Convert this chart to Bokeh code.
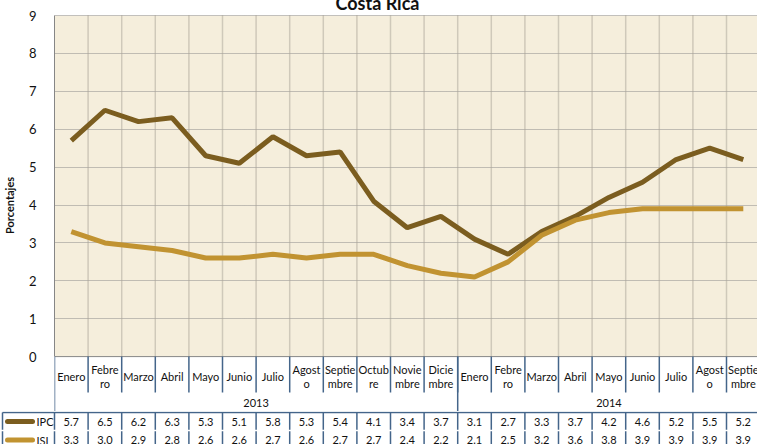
from bokeh.plotting import figure
from bokeh.models import Range1d, FixedTicker
from bokeh.layouts import column
from bokeh.core.properties import value
from bokeh.embed import file_html
from bokeh.resources import INLINE

# ---------------- data ----------------
month_labels = ["Enero", "Febre\nro", "Marzo", "Abril", "Mayo", "Junio", "Julio",
                "Agost\no", "Septie\nmbre", "Octub\nre", "Novie\nmbre", "Dicie\nmbre",
                "Enero", "Febre\nro", "Marzo", "Abril", "Mayo", "Junio", "Julio",
                "Agost\no", "Septie\nmbre"]
years = ["2013", "2014"]
year_counts = [12, 9]
ipc = [5.7, 6.5, 6.2, 6.3, 5.3, 5.1, 5.8, 5.3, 5.4, 4.1, 3.4, 3.7,
       3.1, 2.7, 3.3, 3.7, 4.2, 4.6, 5.2, 5.5, 5.2]
isl = [3.3, 3.0, 2.9, 2.8, 2.6, 2.6, 2.7, 2.6, 2.7, 2.7, 2.4, 2.2,
       2.1, 2.5, 3.2, 3.6, 3.8, 3.9, 3.9, 3.9, 3.9]
y_ticks = [0, 1, 2, 3, 4, 5, 6, 7, 8, 9]
series_names = ["IPC", "ISL"]

# ---------------- style ----------------
FONT = "Lato"
C_IPC = "#7B5D1F"
C_ISL = "#C19331"
BG = "#F5EEDC"
SEP = "#44658A"
GRID = "#8a8a8a"
TXT = "#111111"

W = 760
LEFT = 57                      # left edge of the plotting area (px)
CAT_PX = 33.6                  # px per category
Y_PX = 37.9                    # px per unit
H_A = 412
H_B = 33
TOP_PAD = 16                   # px above value 9

n = len(ipc)
xc = [i + 0.5 for i in range(n)]
x_end = (W - LEFT) / CAT_PX
ya1 = max(y_ticks) + TOP_PAD / Y_PX
ya0 = ya1 - H_A / Y_PX
yb1 = ya0
yb0 = yb1 - H_B / Y_PX

def py(pix):
    """page pixel row -> data y (shared scale)"""
    return ya1 - pix / Y_PX

# ---------------- figure A: chart + month/year header ----------------
pA = figure(width=W, height=H_A, x_range=Range1d(0, x_end), y_range=Range1d(ya0, ya1),
            output_backend="svg", toolbar_location=None, x_axis_location=None,
            min_border_left=LEFT, min_border_right=0, min_border_top=0, min_border_bottom=0)
pA.outline_line_color = None
pA.xgrid.visible = False
pA.frame_align = False

# plot-area background
pA.quad(left=[0], right=[n], bottom=[min(y_ticks)], top=[max(y_ticks)],
        fill_color=BG, line_color=None, level="image")

pA.ygrid.ticker = FixedTicker(ticks=y_ticks[1:])
pA.ygrid.grid_line_color = GRID
pA.ygrid.grid_line_dash = "1 1"
pA.ygrid.grid_line_width = 1

# vertical grid at category boundaries
bounds = list(range(1, n))
pA.segment(x0=bounds, y0=[0] * len(bounds), x1=bounds, y1=[max(y_ticks)] * len(bounds),
           line_color="#aaa397", line_width=1.5, line_dash="1 1")

# y axis
ya = pA.yaxis[0]
ya.ticker = FixedTicker(ticks=y_ticks)
ya.bounds = (0, 9)
ya.axis_line_color = "#868686"
ya.major_tick_line_color = None
ya.minor_tick_line_color = None
ya.major_label_standoff = 12
ya.major_label_text_font = FONT
ya.major_label_text_font_size = "13px"
ya.major_label_text_color = TXT
ya.axis_label = "Porcentajes"
ya.axis_label_text_font = FONT
ya.axis_label_text_font_style = "bold"
ya.axis_label_text_font_size = "11px"
ya.axis_label_text_color = TXT
ya.axis_label_standoff = 10

# x baseline
pA.segment(x0=[0], y0=[0], x1=[n], y1=[0], line_color="#868686", line_width=1)

# series lines
pA.line(xc, ipc, line_color=C_IPC, line_width=5)
pA.line(xc, isl, line_color=C_ISL, line_width=5)

# title (partly cut by the top edge, as in the original)
pA.text(x=[(W / 2 - LEFT) / CAT_PX], y=[py(3.5)], text=["Costa Rica"],
        text_font=value(FONT), text_font_style="bold", text_font_size="18px",
        text_align="center", text_baseline="alphabetic", text_color=TXT)

# month labels
pA.text(x=xc, y=[py(377)] * n, text=month_labels, text_font=value(FONT),
        text_font_size="11px", text_align="center", text_baseline="middle",
        text_color=TXT, text_line_height=1.15)

# month separators
m_bounds = list(range(1, n))
pA.segment(x0=m_bounds, y0=[0] * len(m_bounds), x1=m_bounds, y1=[py(393)] * len(m_bounds),
           line_color=SEP, line_width=1.5)

# year labels and group separators
starts = []
acc = 0
for c in year_counts:
    starts.append(acc)
    acc += c
ycent = [s + c / 2 for s, c in zip(starts, year_counts)]
pA.text(x=ycent, y=[py(403)] * len(years), text=years, text_font=value(FONT),
        text_font_size="11px", text_align="center", text_baseline="middle", text_color=TXT)
pA.segment(x0=starts, y0=[0] * len(starts), x1=starts, y1=[ya0] * len(starts),
           line_color=SEP, line_width=1.5)

# ---------------- figure B: data table ----------------
xb0 = -(LEFT - 5) / CAT_PX
pB = figure(width=W, height=H_B, x_range=Range1d(-LEFT / CAT_PX, x_end),
            y_range=Range1d(yb0, yb1), output_backend="svg", toolbar_location=None,
            x_axis_location=None, y_axis_location=None,
            min_border_left=0, min_border_right=0, min_border_top=0, min_border_bottom=0)
pB.outline_line_color = None
pB.grid.visible = False
pB.frame_align = False

row_y = [py(422), py(440.5)]
top_line = py(413)
mid = py(431)

pB.segment(x0=[xb0], y0=[top_line], x1=[n], y1=[top_line], line_color=SEP, line_width=1.5)
vx = [xb0] + list(range(0, n))
pB.segment(x0=vx, y0=[top_line] * len(vx), x1=vx, y1=[mid + 0.02] * len(vx),
           line_color=SEP, line_width=1.5)
pB.segment(x0=vx, y0=[mid - 0.02] * len(vx), x1=vx, y1=[yb0] * len(vx),
           line_color=SEP, line_width=1.5)

for vals, ry, col, name in zip([ipc, isl], row_y, [C_IPC, C_ISL], series_names):
    pB.text(x=xc, y=[ry] * n, text=[f"{v:.1f}" for v in vals], text_font=value(FONT),
            text_font_size="11px", text_align="center", text_baseline="middle",
            text_color=TXT)
    pB.segment(x0=[(10 - LEFT) / CAT_PX], y0=[ry], x1=[(35 - LEFT) / CAT_PX], y1=[ry],
               line_color=col, line_width=5, line_cap="round")
    pB.text(x=[(39 - LEFT) / CAT_PX], y=[ry], text=[name], text_font=value(FONT),
            text_font_size="11px", text_align="left", text_baseline="middle",
            text_color=TXT)

layout = column(pA, pB, spacing=0, margin=(-1, 0, -8, -3))

open("out.html", "w").write(file_html(layout, INLINE))
